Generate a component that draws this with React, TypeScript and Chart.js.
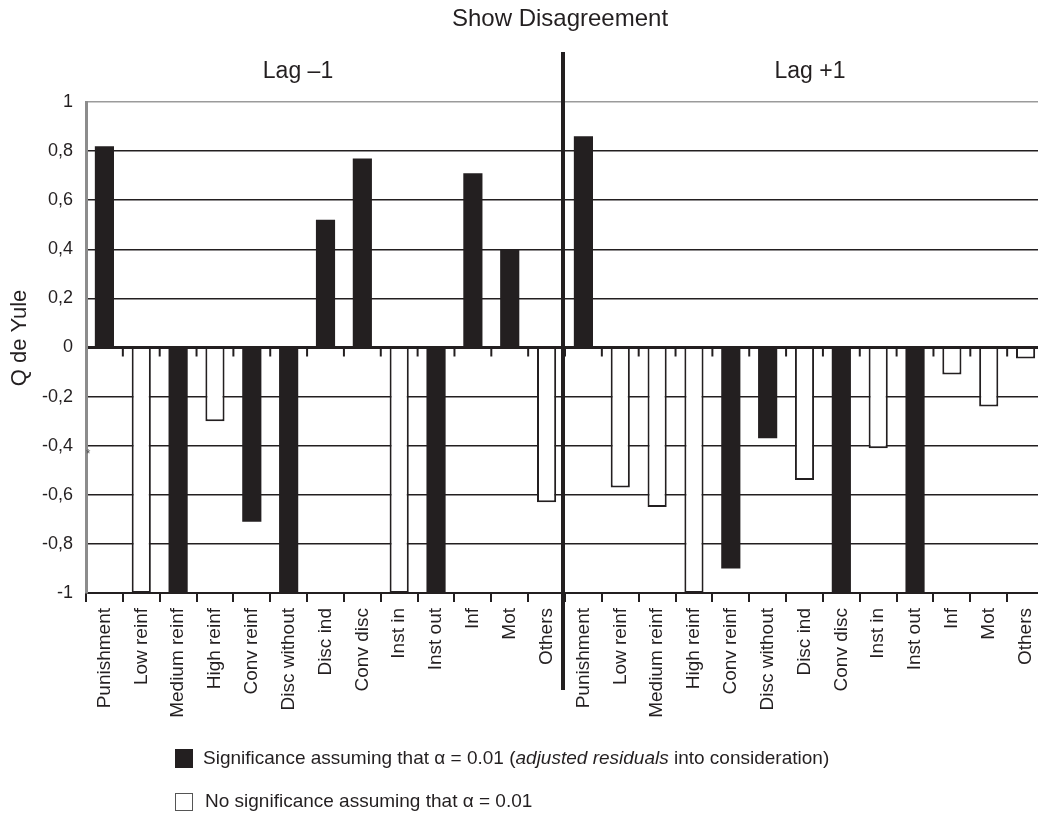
import React, { useEffect, useRef } from "react";
import { Chart, registerables } from "chart.js";

Chart.register(...registerables);

const DARK = "#231f20";
const FONT = "'Liberation Sans', Arial, Helvetica, sans-serif";

const chartTitle = "Show Disagreement";
const groupLabels = ["Lag \u20131", "Lag +1"];
const yAxisTitle = "Q de Yule";

const categories = [
  "Punishment",
  "Low reinf",
  "Medium reinf",
  "High reinf",
  "Conv reinf",
  "Disc without",
  "Disc ind",
  "Conv disc",
  "Inst in",
  "Inst out",
  "Inf",
  "Mot",
  "Others",
];

const lagMinus1Values = [0.82, -1, -1, -0.3, -0.71, -1, 0.52, 0.77, -1, -1, 0.71, 0.4, -0.63];
const lagMinus1Significant = [true, false, true, false, true, true, true, true, false, true, true, true, false];

const lagPlus1Values = [0.86, -0.57, -0.65, -1, -0.9, -0.37, -0.54, -1, -0.41, -1, -0.11, -0.24, -0.045];
const lagPlus1Significant = [true, false, false, false, true, true, false, true, false, true, false, false, false];

const yTickValues = [1, 0.8, 0.6, 0.4, 0.2, 0, -0.2, -0.4, -0.6, -0.8, -1];

const legendSignificant = ["Significance assuming that \u03b1 = 0.01 (", "adjusted residuals", " into consideration)"];
const legendNotSignificant = "No significance assuming that \u03b1 = 0.01";

const allLabels = [...categories, ...categories];
const allValues = [...lagMinus1Values, ...lagPlus1Values];
const allSignificant = [...lagMinus1Significant, ...lagPlus1Significant];

const formatTick = (v: number) => {
  const r = Math.round(v * 10) / 10;
  if (Number.isInteger(r)) return String(r);
  return r.toFixed(1).replace(".", ",");
};

const annotationPlugin = {
  id: "annotations",
  afterDatasetsDraw(chart: any) {
    const { ctx, scales } = chart;
    const x = scales.x;
    const y = scales.y;
    const y0 = y.getPixelForValue(0);
    ctx.save();
    ctx.strokeStyle = DARK;
    ctx.lineWidth = 2;
    for (let i = 1; i < allLabels.length; i++) {
      const bx = (x.getPixelForValue(i - 1) + x.getPixelForValue(i)) / 2;
      ctx.beginPath();
      ctx.moveTo(bx, y0);
      ctx.lineTo(bx, y0 + 9);
      ctx.stroke();
    }
    ctx.restore();
  },
  afterDraw(chart: any) {
    const { ctx, scales } = chart;
    const x = scales.x;
    const half = categories.length;
    const divX = (x.getPixelForValue(half - 1) + x.getPixelForValue(half)) / 2 - 2;
    ctx.save();
    // divider
    ctx.strokeStyle = DARK;
    ctx.lineWidth = 4;
    ctx.beginPath();
    ctx.moveTo(divX, 52);
    ctx.lineTo(divX, 690);
    ctx.stroke();

    ctx.fillStyle = DARK;
    ctx.textAlign = "center";
    ctx.textBaseline = "middle";
    ctx.font = `24px ${FONT}`;
    ctx.fillText(chartTitle, 560, 19);
    ctx.font = `23px ${FONT}`;
    ctx.fillText(groupLabels[0], 298, 72);
    ctx.fillText(groupLabels[1], 810, 72);

    // y axis title
    ctx.save();
    ctx.translate(20, 338);
    ctx.rotate(-Math.PI / 2);
    ctx.font = `22px ${FONT}`;
    ctx.fillText(yAxisTitle, 0, 0);
    ctx.restore();

    // stray asterisk
    ctx.font = `12px ${FONT}`;
    ctx.fillStyle = "#555";
    ctx.fillText("*", 88, 455);

    // legend
    ctx.textAlign = "left";
    ctx.fillStyle = DARK;
    ctx.fillRect(175, 749, 18, 19);
    let tx = 203;
    const ly1 = 759;
    ctx.fillStyle = DARK;
    ctx.font = `19px ${FONT}`;
    ctx.fillText(legendSignificant[0], tx, ly1);
    tx += ctx.measureText(legendSignificant[0]).width;
    ctx.font = `italic 19px ${FONT}`;
    ctx.fillText(legendSignificant[1], tx, ly1);
    tx += ctx.measureText(legendSignificant[1]).width;
    ctx.font = `19px ${FONT}`;
    ctx.fillText(legendSignificant[2], tx, ly1);

    ctx.fillStyle = "#fff";
    ctx.fillRect(175.5, 793.5, 17, 17);
    ctx.strokeStyle = "#555";
    ctx.lineWidth = 1;
    ctx.strokeRect(175.5, 793.5, 17, 17);
    ctx.fillStyle = DARK;
    ctx.fillText(legendNotSignificant, 205, 802);
    ctx.restore();
  },
};

export default function App() {
  const canvasRef = useRef<HTMLCanvasElement | null>(null);

  useEffect(() => {
    if (!canvasRef.current) return;
    Chart.defaults.font.family = FONT;
    const chart = new Chart(canvasRef.current, {
      type: "bar",
      data: {
        labels: allLabels,
        datasets: [
          {
            label: "Significant",
            data: allValues.map((v, i) => (allSignificant[i] ? v : null)),
            backgroundColor: DARK,
            borderWidth: 0,
            categoryPercentage: 1,
            barPercentage: 0.52,
          },
          {
            label: "Not significant",
            data: allValues.map((v, i) => (allSignificant[i] ? null : v)),
            backgroundColor: "#ffffff",
            borderColor: DARK,
            borderWidth: 2,
            categoryPercentage: 1,
            barPercentage: 0.52,
          },
        ],
      },
      options: {
        responsive: false,
        animation: false,
        layout: { padding: { top: 102, left: 0, right: 6, bottom: 0 } },
        plugins: {
          legend: { display: false },
          title: { display: false },
          tooltip: { enabled: false },
        },
        scales: {
          x: {
            stacked: true,
            ticks: {
              autoSkip: false,
              maxRotation: 90,
              minRotation: 90,
              padding: 6,
              color: DARK,
              font: { size: 19, family: FONT },
            },
            grid: {
              drawOnChartArea: false,
              drawTicks: true,
              tickLength: 9,
              color: DARK,
              lineWidth: 2,
              offset: true,
            },
            border: { color: DARK, width: 2 },
            afterFit: (s: any) => {
              s.height = 221;
              s.paddingLeft = 0;
              s.paddingRight = 0;
            },
          },
          y: {
            stacked: true,
            min: -1,
            max: 1,
            afterBuildTicks: (s: any) => {
              s.ticks = yTickValues.map((v) => ({ value: v }));
            },
            ticks: {
              padding: 13,
              color: DARK,
              font: { size: 18, family: FONT },
              callback: (v: any) => formatTick(Number(v)),
            },
            grid: {
              drawTicks: false,
              color: (c: any) => (c.tick && Math.abs(c.tick.value - 1) < 1e-6 ? "#9b9b9b" : DARK),
              lineWidth: (c: any) => (c.tick && Math.abs(c.tick.value) < 1e-6 ? 3 : 1.6),
            },
            border: { color: "#8c8c8c", width: 3 },
            afterFit: (s: any) => {
              s.width = 86;
            },
          },
        },
      },
      plugins: [annotationPlugin],
    });
    return () => chart.destroy();
  }, []);

  return (
    <div
      style={{
        position: "absolute",
        left: 0,
        top: 0,
        width: 1038,
        height: 814,
        overflow: "hidden",
        background: "#fff",
      }}
    >
      <canvas ref={canvasRef} width={1050} height={814} style={{ width: 1050, height: 814, display: "block" }} />
    </div>
  );
}
